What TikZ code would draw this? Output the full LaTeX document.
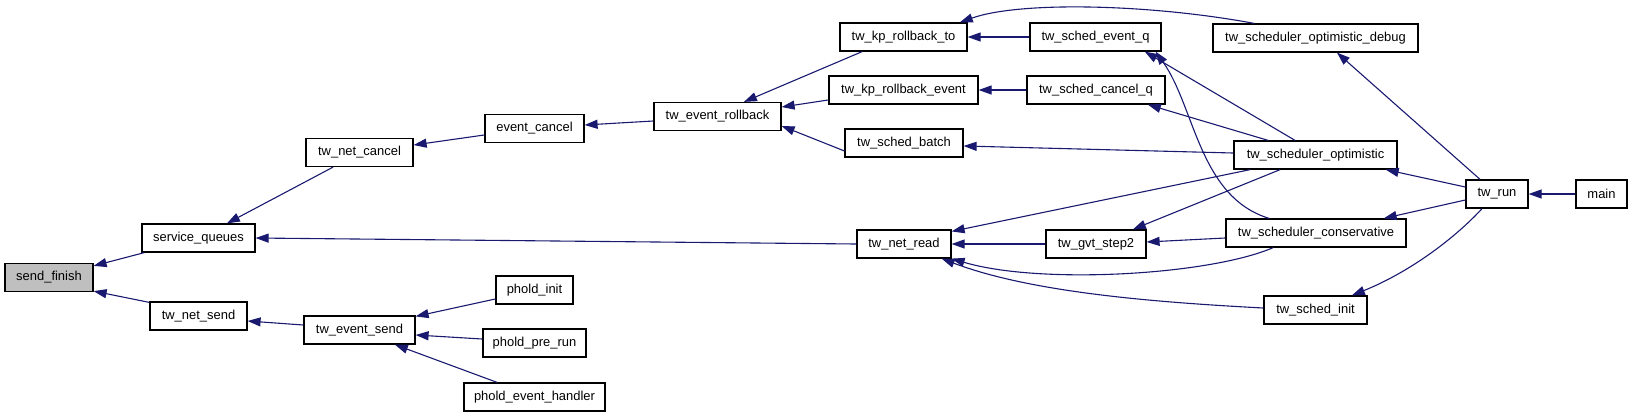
\documentclass[tikz,border=0pt]{standalone}
\usepackage{fontspec}
\setmainfont{Liberation Sans}
\usetikzlibrary{arrows.meta}

\begin{document}
\begin{tikzpicture}[x=1bp,y=-1bp,
  every node/.style={font=\fontsize{13}{15}\selectfont,inner sep=0},
  fn/.style={draw=black,line width=1.2bp,fill=white,minimum height=28bp},
  call/.style={draw=edgeblue,line width=1.1bp,-{Triangle[length=13bp,width=9bp]}}]
\definecolor{edgeblue}{HTML}{191970}
\definecolor{rootgray}{HTML}{BFBFBF}
\path[use as bounding box] (0,0) rectangle (1632,417);
\node[fn,fill=rootgray,minimum width=88bp] (sf) at (49,277.5) {send\_finish};
\node[fn,minimum width=113bp] (sq) at (198.5,238) {service\_queues};
\node[fn,minimum width=97bp] (tns) at (198.5,316) {tw\_net\_send};
\node[fn,minimum width=107bp] (tnc) at (359.5,152.5) {tw\_net\_cancel};
\node[fn,minimum width=111bp] (tes) at (359.5,330) {tw\_event\_send};
\node[fn,minimum width=99bp] (ec) at (534.5,128.5) {event\_cancel};
\node[fn,minimum width=77bp] (pi) at (534.5,290) {phold\_init};
\node[fn,minimum width=103bp] (ppr) at (534.5,343) {phold\_pre\_run};
\node[fn,minimum width=141bp] (peh) at (534.5,397) {phold\_event\_handler};
\node[fn,minimum width=127bp] (ter) at (717.5,116.5) {tw\_event\_rollback};
\node[fn,minimum width=127bp] (krt) at (903.5,37) {tw\_kp\_rollback\_to};
\node[fn,minimum width=149bp] (kre) at (903.5,90) {tw\_kp\_rollback\_event};
\node[fn,minimum width=118bp] (sb) at (904,143) {tw\_sched\_batch};
\node[fn,minimum width=94bp] (nr) at (904,244) {tw\_net\_read};
\node[fn,minimum width=131bp] (seq) at (1095.5,37) {tw\_sched\_event\_q};
\node[fn,minimum width=138bp] (scq) at (1096,90) {tw\_sched\_cancel\_q};
\node[fn,minimum width=100bp] (gs) at (1096,244) {tw\_gvt\_step2};
\node[fn,minimum width=205bp] (sod) at (1315.5,38) {tw\_scheduler\_optimistic\_debug};
\node[fn,minimum width=163bp] (so) at (1315.5,155) {tw\_scheduler\_optimistic};
\node[fn,minimum width=180bp] (sc) at (1316,233) {tw\_scheduler\_conservative};
\node[fn,minimum width=103bp] (si) at (1315.5,310) {tw\_sched\_init};
\node[fn,minimum width=62bp] (run) at (1497,194) {tw\_run};
\node[fn,minimum width=51bp] (main) at (1601.5,194) {main};
\draw[call] ([xshift=3]sq.south west) -- ([yshift=-3]sf.north east);
\draw[call] ([yshift=-1]tns.north west) -- ([yshift=1]sf.south east);
\draw[call] ([xshift=-26.5]tnc.south) -- ([xshift=28.5]sq.north);
\draw[call] (nr.west) -- (sq.east);
\draw[call] ([yshift=-6.5]ec.west) -- ([yshift=7.5]tnc.east);
\draw[call] ([yshift=-4.5]ter.west) -- ([yshift=3.5]ec.east);
\draw[call] ([xshift=-41.5]krt.south) -- ([xshift=26.5]ter.north);
\draw[call] ([yshift=-10]kre.west) -- ([yshift=9.5]ter.east);
\draw[call] ([yshift=-8]sb.west) -- ([yshift=-9.5]ter.east);
\draw[call] ([yshift=5]tes.west) -- ([yshift=-5]tns.east);
\draw[call] ([yshift=-9]pi.west) -- ([yshift=-1]tes.north east);
\draw[call] ([yshift=4]ppr.west) -- ([yshift=-5]tes.east);
\draw[call] ([xshift=-37.5]peh.north) -- ([xshift=35.5]tes.south);
\draw[call] (seq.west) -- (krt.east);
\draw[call] (scq.west) -- (kre.east);
\draw[call] ([yshift=2]so.west) -- ([yshift=-3]sb.east);
\draw[call] ([xshift=-61.5]sod.north) .. controls (1150,4) and (1020,1) .. ([xshift=56.5]krt.north);
\draw[call] ([xshift=-20.5]so.north) -- ([xshift=49.5]seq.south);
\draw[call] ([xshift=-47]sc.north) .. controls (1199,197) and (1195,107) .. ([xshift=-6]seq.south east);
\draw[call] ([xshift=-47.5]so.north) -- ([xshift=52]scq.south);
\draw[call] ([xshift=-65.5]so.south) -- ([yshift=-2]nr.north east);
\draw[call] ([xshift=-35.5]so.south) -- ([xshift=37]gs.north);
\draw[call] ([yshift=-5]sc.west) -- ([yshift=2]gs.east);
\draw[call] (gs.west) -- (nr.east);
\draw[call] ([xshift=-43]sc.south) .. controls (1210,275) and (1040,285) .. (nr.south east);
\draw[call] ([yshift=2]si.west) .. controls (1150,302) and (1030,292) .. ([xshift=-10]nr.south east);
\draw[call] ([xshift=-17]run.north) -- ([xshift=21.5]sod.south);
\draw[call] ([yshift=7]run.west) -- ([xshift=-12]so.south east);
\draw[call] ([yshift=-6]run.west) -- ([xshift=-23]sc.north east);
\draw[call] ([xshift=-15]run.south) .. controls (1455,238) and (1410,272) .. ([xshift=36.5]si.north);
\draw[call] (main.west) -- (run.east);
\end{tikzpicture}
\end{document}
